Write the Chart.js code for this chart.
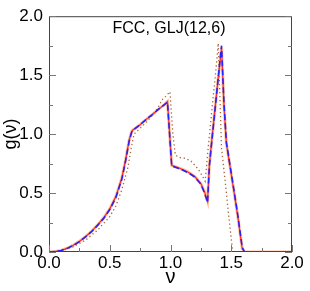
<!DOCTYPE html>
<html><head><meta charset="utf-8">
<script src="https://cdn.jsdelivr.net/npm/chart.js@4"></script>
<style>html,body{margin:0;padding:0;background:#fff}canvas{display:block}</style>
</head><body>
<canvas id="c" width="310" height="291" style="width:310px;height:291px"></canvas>
<script>
// Frequencies (nu) and g(nu) for the near-identical main curves
const nuMain = [0,0.05,0.1,0.15,0.2,0.25,0.3,0.35,0.4,0.45,0.5,0.55,0.6,0.63,0.66,0.68,0.69,0.75,0.8,0.85,0.9,0.95,0.975,1.01,1.05,1.1,1.15,1.2,1.25,1.28,1.305,1.32,1.34,1.36,1.39,1.42,1.44,1.46,1.5,1.55,1.59,1.61,2.0];
const gOrange = [0,0.004,0.014,0.032,0.058,0.09,0.13,0.175,0.23,0.29,0.365,0.47,0.63,0.78,0.95,1.02,1.035,1.08,1.125,1.165,1.21,1.25,1.275,0.735,0.72,0.70,0.675,0.64,0.58,0.51,0.43,0.74,0.95,1.15,1.45,1.73,1.25,0.92,0.66,0.33,0.03,0,0];
const gRed    = [0,0.004,0.014,0.032,0.058,0.09,0.13,0.175,0.23,0.29,0.365,0.47,0.63,0.78,0.95,1.02,1.035,1.08,1.125,1.165,1.21,1.25,1.275,0.735,0.72,0.70,0.675,0.64,0.58,0.51,0.43,0.74,0.95,1.15,1.45,1.73,1.25,0.92,0.66,0.33,0.03,0,0];
const gBlue   = [0,0.004,0.013,0.031,0.056,0.088,0.128,0.172,0.226,0.285,0.36,0.46,0.62,0.77,0.94,1.015,1.03,1.08,1.125,1.165,1.21,1.25,1.27,0.73,0.715,0.695,0.67,0.635,0.575,0.50,0.42,0.73,0.94,1.14,1.45,1.75,1.26,0.93,0.67,0.34,0.04,0,0];
// Dotted curve
const nuDot = [0,0.1,0.2,0.3,0.4,0.5,0.55,0.6,0.65,0.68,0.70,0.75,0.8,0.85,0.9,0.93,0.96,0.995,1.02,1.04,1.08,1.12,1.17,1.23,1.27,1.285,1.31,1.34,1.37,1.393,1.42,1.45,1.48,1.51,1.52,2.0];
const gDot  = [0,0.01,0.045,0.1,0.185,0.3,0.39,0.53,0.72,0.9,1.0,1.05,1.1,1.16,1.23,1.29,1.32,1.36,1.0,0.82,0.80,0.795,0.77,0.70,0.63,0.60,0.88,1.2,1.5,1.77,0.88,0.6,0.3,0.02,0,0];
const xTicks = [0,0.5,1.0,1.5,2.0];
const yTicks = [0,0.5,1.0,1.5,2.0];
const titleText = 'FCC, GLJ(12,6)';

const pts = (xs, ys) => xs.map((x,i)=>({x:x, y:ys[i]}));
const FONT = "'Liberation Sans', Arial, Helvetica, sans-serif";

const boxPlugin = {
  id:'box',
  afterDraw(chart){
    const {ctx, chartArea:a, scales:{x,y}} = chart;
    ctx.save();
    ctx.strokeStyle = '#444'; ctx.lineWidth = 1;
    ctx.strokeRect(a.left+0.5, a.top+0.5, a.right-a.left-1, a.bottom-a.top-1);
    ctx.strokeStyle = '#777';
    for (let v=0; v<=2.0001; v+=0.25){
      const major = Math.abs(v*2 - Math.round(v*2))<1e-6;
      const L = major?7:4;
      const px = Math.round(x.getPixelForValue(v))+0.5;
      ctx.beginPath(); ctx.moveTo(px, a.bottom); ctx.lineTo(px, a.bottom-L); ctx.stroke();
      const py = Math.round(y.getPixelForValue(v))+0.5;
      ctx.beginPath(); ctx.moveTo(a.left, py); ctx.lineTo(a.left+L, py); ctx.stroke();
      ctx.beginPath(); ctx.moveTo(a.right, py); ctx.lineTo(a.right-L, py); ctx.stroke();
    }
    ctx.fillStyle = '#000';
    ctx.font = '16px ' + FONT;
    ctx.textAlign = 'center'; ctx.textBaseline = 'alphabetic';
    ctx.fillText(titleText, 169, 33);
    ctx.restore();
  }
};

new Chart(document.getElementById('c'), {
  type:'scatter',
  data:{datasets:[
    {order:0, data:pts(nuMain,gBlue), showLine:true, borderColor:'#2424ff', borderWidth:1.6, borderDash:[6,3], pointRadius:0, fill:false},
    {order:1, data:pts(nuMain,gRed), showLine:true, borderColor:'#ff2a2a', borderWidth:1.2, pointRadius:0, fill:false},
    {order:2, data:pts(nuDot,gDot), showLine:true, borderColor:'#a8643a', borderWidth:1.3, borderDash:[1.3,2.7], pointRadius:0, fill:false},
    {order:3, data:pts(nuMain,gOrange), showLine:true, borderColor:'rgba(255,165,110,0.7)', borderWidth:3, pointRadius:0, fill:false}
  ]},
  plugins:[boxPlugin],
  options:{
    responsive:false, animation:false,
    layout:{padding:{top:10,right:18,left:0,bottom:0}},
    plugins:{legend:{display:false}, tooltip:{enabled:false}, title:{display:false}},
    scales:{
      x:{type:'linear', min:0, max:2,
        afterBuildTicks(s){ s.ticks = xTicks.map(v=>({value:v})); },
        afterFit(s){ s.height = 39; },
        grid:{display:false, drawTicks:false}, border:{display:false},
        ticks:{font:{size:17, family:FONT}, color:'#000', padding:1, maxRotation:0, callback:v=>v.toFixed(1)},
        title:{display:true, text:'ν', font:{size:20, family:FONT}, color:'#000', padding:{top:0,bottom:2}}
      },
      y:{type:'linear', min:0, max:2,
        afterBuildTicks(s){ s.ticks = yTicks.map(v=>({value:v})); },
        afterFit(s){ s.width = 49; },
        grid:{display:false, drawTicks:false}, border:{display:false},
        ticks:{font:{size:17, family:FONT}, color:'#000', padding:6, callback:v=>v.toFixed(1)},
        title:{display:true, text:'g(ν)', font:{size:18, family:FONT}, color:'#000', padding:{top:0,bottom:0}}
      }
    }
  }
});
</script>
</body></html>
